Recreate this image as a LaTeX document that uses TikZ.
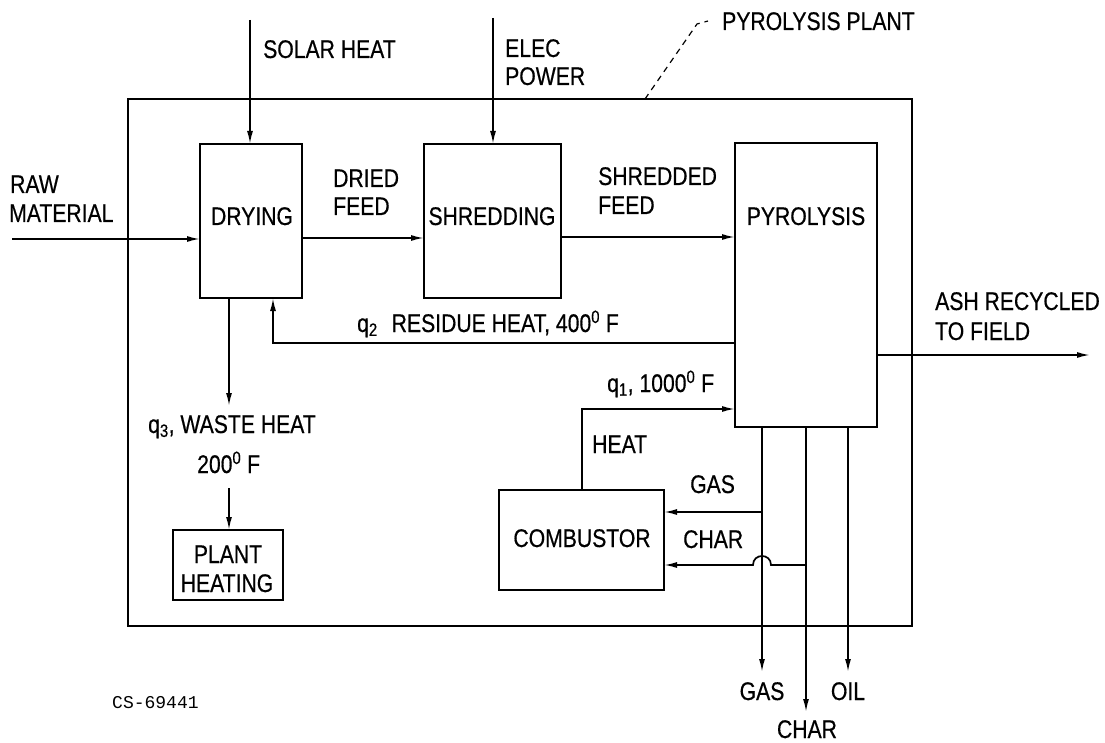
\documentclass[tikz,border=0pt]{standalone}
\usepackage{fontspec}
\newfontfamily\labfont{Liberation Sans}[FakeStretch=0.83,FakeBold=0.5]
\newfontfamily\codefont{Liberation Mono}
\usetikzlibrary{arrows.meta}
\begin{document}
\begin{tikzpicture}[x=1pt,y=-1pt,
  box/.style={draw,line width=2.6pt,inner sep=0,outer sep=0,anchor=north west},
  conn/.style={line width=1.7pt},
  arr/.style={conn,-{Latex[length=13pt,width=6pt]}},
  lab/.style={font=\labfont\fontsize{25.5}{29}\selectfont,inner sep=0,anchor=base west},
  labc/.style={lab,anchor=base}]
\useasboundingbox[fill=white] (0,0) rectangle (1105,743);
% boxes
\node[box,minimum width=784pt,minimum height=527pt] (plant) at (128,99) {};
\node[box,minimum width=102pt,minimum height=154pt] (dry) at (200,144) {};
\node[box,minimum width=137pt,minimum height=154pt] (shr) at (424,144) {};
\node[box,minimum width=142pt,minimum height=284pt] (pyr) at (735,143) {};
\node[box,minimum width=165pt,minimum height=100pt] (comb) at (499,490) {};
\node[box,minimum width=110pt,minimum height=70pt] (ph) at (173,530) {};
% box texts
\node[labc] (tdry) at (252,225) {DRYING};
\node[labc] (tshr) at (492,225) {SHREDDING};
\node[labc] (tpyr) at (806,225) {PYROLYSIS};
\node[labc] (tcomb) at (582,547) {COMBUSTOR};
\node[labc] (tph1) at (228,563) {PLANT};
\node[labc] (tph2) at (227,592) {HEATING};
% coordinates for free ends
\coordinate (rawin) at (12,239);
\coordinate (solar) at (250,20);
\coordinate (elec) at (493,18);
\coordinate (res) at (273,343);
\coordinate (q3top) at (229,406);
\coordinate (q3bot) at (229,488);
\coordinate (hc) at (582,409);
\coordinate (gasend) at (762,672);
\coordinate (gasbr) at (762,512);
\coordinate (charend) at (806,712);
\coordinate (charbr) at (806,565);
\coordinate (oilend) at (848,672);
\coordinate (ashend) at (1090,355);
\coordinate (ldr0) at (645,99);
\coordinate (ldr1) at (697,24);
\coordinate (ldr2) at (708,21);
% connectors
\draw[arr] (rawin) -- (rawin -| dry.west);
\draw[arr] (solar) -- (solar |- dry.north);
\draw[arr] (elec) -- (elec |- shr.north);
\draw[arr] (dry.east |- 0,238) -- (shr.west |- 0,238);
\draw[arr] (shr.east |- 0,237) -- (pyr.west |- 0,237);
\draw[arr] (res -| pyr.west) -- (res) -- (res |- dry.south);
\draw[arr] (q3top |- dry.south) -- (q3top);
\draw[arr] (q3bot) -- (q3bot |- ph.north);
\draw[arr] (hc |- comb.north) -- (hc) -- (hc -| pyr.west);
\draw[arr] (gasend |- pyr.south) -- (gasend);
\draw[arr] (charend |- pyr.south) -- (charend);
\draw[arr] (oilend |- pyr.south) -- (oilend);
\draw[arr] (gasbr) -- (gasbr -| comb.east);
\draw[arr] (charbr) -- (771,565) .. controls (771,553) and (753,553) .. (753,565) -- (charbr -| comb.east);
\draw[arr] (ashend -| pyr.east) -- (ashend);
\draw[line width=1.2pt,dash pattern=on 6pt off 5pt] (ldr0) -- (ldr1) -- (ldr2);
% labels
\node[lab] (tsolar) at (263,58) {SOLAR HEAT};
\node[lab] (telec1) at (505,57) {ELEC};
\node[lab] (telec2) at (505,85) {POWER};
\node[lab] (tplant) at (722,30) {PYROLYSIS PLANT};
\node[lab] (traw1) at (10,193) {RAW};
\node[lab] (traw2) at (9,222) {MATERIAL};
\node[lab] (tdf1) at (333,187) {DRIED};
\node[lab] (tdf2) at (333,215) {FEED};
\node[lab] (tsf1) at (598,185) {SHREDDED};
\node[lab] (tsf2) at (598,214) {FEED};
\node[lab] (tres) at (357,332) {q\textsubscript{2}\hspace{14pt}RESIDUE HEAT, 400\textsuperscript{0} F};
\node[lab] (tash1) at (935,310) {ASH RECYCLED};
\node[lab] (tash2) at (935,340) {TO FIELD};
\node[lab] (tq1) at (607,392) {q\textsubscript{1}, 1000\textsuperscript{0} F};
\node[lab] (theat) at (592,453) {HEAT};
\node[lab] (tgas) at (690,493) {GAS};
\node[lab] (tchar) at (683,548) {CHAR};
\node[lab] (tq3) at (148,433) {q\textsubscript{3}, WASTE HEAT};
\node[lab] (t200) at (197,473) {200\textsuperscript{0} F};
\node[labc] (tgasout) at (762,700) {GAS};
\node[labc] (toilout) at (848,700) {OIL};
\node[labc] (tcharout) at (807,738) {CHAR};
\node[inner sep=0,anchor=base west,font=\codefont\fontsize{18}{20}\selectfont] (tcs) at (112,708) {CS-69441};
\end{tikzpicture}
\end{document}
